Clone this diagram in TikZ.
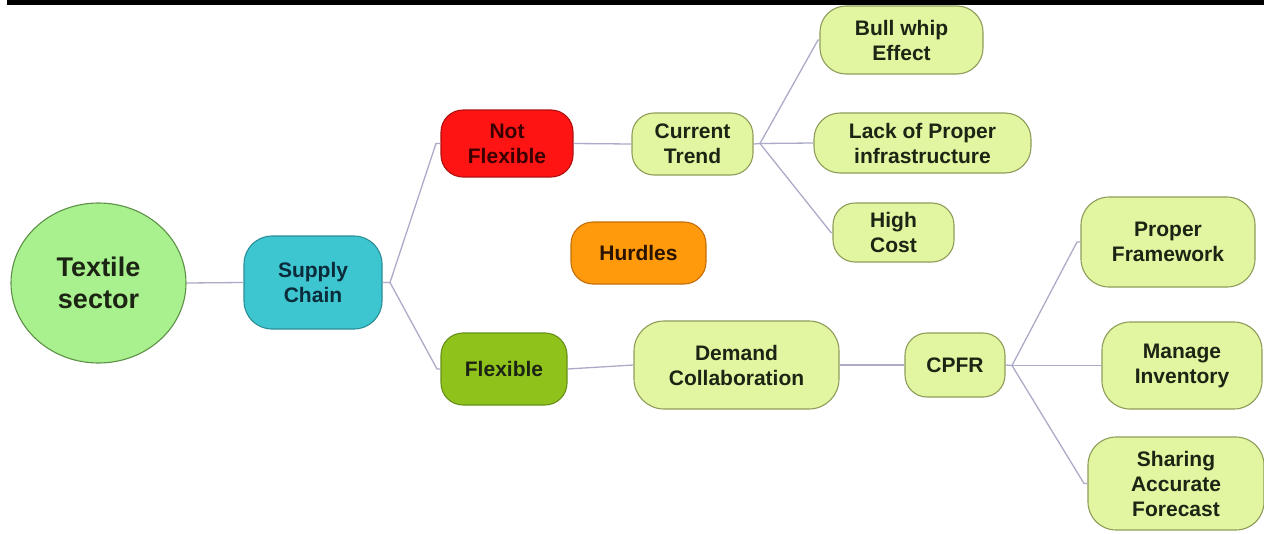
\documentclass[tikz,border=0pt]{standalone}
\usepackage{fontspec}
\setmainfont{Liberation Sans}
\usetikzlibrary{shapes.geometric}
\definecolor{lg}{HTML}{E2F5A0}
\definecolor{lgb}{HTML}{8E9C5A}
\definecolor{conn}{HTML}{ABABC8}
\definecolor{txt}{HTML}{1C2414}
\definecolor{tfill}{HTML}{A9F08F}
\definecolor{tborder}{HTML}{5E9148}
\definecolor{sfill}{HTML}{3EC6D0}
\definecolor{sborder}{HTML}{2A8E96}
\definecolor{stxt}{HTML}{0B2A3A}
\definecolor{rfill}{HTML}{FF1414}
\definecolor{rborder}{HTML}{B01010}
\definecolor{rtxt}{HTML}{3A0000}
\definecolor{ffill}{HTML}{8FC31C}
\definecolor{fborder}{HTML}{66901A}
\definecolor{ofill}{HTML}{FF9A0C}
\definecolor{oborder}{HTML}{C46E08}
\definecolor{otxt}{HTML}{2A1400}
\tikzset{
  box/.style={draw, line width=1.1pt, rounded corners=22pt, align=center, inner sep=2pt,
    font=\fontsize{21}{25}\selectfont\bfseries, text=txt},
  leaf/.style={box, fill=lg, draw=lgb},
  link/.style={draw=conn, line width=1.3pt},
}
\begin{document}
\begin{tikzpicture}[x=1pt,y=-1pt]
\useasboundingbox (0,0) rectangle (1264,533);
\fill[black] (7,0) rectangle (1264,4.6);
% nodes
\node[ellipse, draw=tborder, fill=tfill, line width=1.1pt, minimum width=175pt, minimum height=160pt, inner sep=0pt,
  align=center, font=\fontsize{27}{32}\selectfont\bfseries, text=txt] (textile) at (98.5,283) {Textile\\sector};
\node[box, fill=sfill, draw=sborder, text=stxt, minimum width=138pt, minimum height=93pt, rounded corners=28pt] (supply) at (313,282.5) {Supply\\Chain};
\node[box, fill=rfill, draw=rborder, text=rtxt, minimum width=132pt, minimum height=67pt] (notflex) at (507,143.5) {Not\\Flexible};
\node[box, fill=ffill, draw=fborder, minimum width=126pt, minimum height=72pt] (flex) at (504,369) {Flexible};
\node[box, fill=ofill, draw=oborder, text=otxt, minimum width=135pt, minimum height=62pt] (hurdles) at (638.5,253) {Hurdles};
\node[leaf, minimum width=121pt, minimum height=62pt] (current) at (692.5,144) {Current\\Trend};
\node[leaf, minimum width=205pt, minimum height=88pt, rounded corners=30pt] (demand) at (736.5,365) {Demand\\Collaboration};
\node[leaf, minimum width=100pt, minimum height=64pt] (cpfr) at (955,365) {CPFR};
\node[leaf, minimum width=163pt, minimum height=68pt, rounded corners=26pt] (bull) at (901.5,40) {Bull whip\\Effect};
\node[leaf, minimum width=217pt, minimum height=60pt, rounded corners=26pt] (lack) at (922.5,143) {Lack of Proper\\infrastructure};
\node[leaf, minimum width=121pt, minimum height=59pt] (high) at (893.5,232.5) {High\\Cost};
\node[leaf, minimum width=174pt, minimum height=90pt, rounded corners=28pt] (proper) at (1168,242) {Proper\\Framework};
\node[leaf, minimum width=160pt, minimum height=87pt, rounded corners=28pt] (manage) at (1182,365.5) {Manage\\Inventory};
\node[leaf, minimum width=176pt, minimum height=93pt, rounded corners=28pt] (sharing) at (1176,483.5) {Sharing\\Accurate\\Forecast};
% junction coordinates
\coordinate (sb) at (390,282.5);
\coordinate (nfin) at (436,143.5);
\coordinate (flin) at (437,369);
\coordinate (cb) at (760,143.5);
\coordinate (bwin) at (818,40);
\coordinate (hcin) at (831,232.5);
\coordinate (pb) at (1012,365.5);
\coordinate (pfin) at (1077,242);
\coordinate (sain) at (1084,483.5);
% connectors
\begin{scope}[on background layer/.style={}]
\draw[link] (textile.east) -- (supply.west);
\draw[link] (supply.east) -- (sb) -- (nfin) -- (notflex.west);
\draw[link] (sb) -- (flin) -- (flex.west);
\draw[link] (notflex.east) -- (current.west);
\draw[link] (flex.east) -- (demand.west);
\draw[link] (current.east) -- (cb) -- (bwin) -- (bull.west);
\draw[link] (cb) -- (lack.west);
\draw[link] (cb) -- (hcin) -- (high.west);
\draw[link] (demand.east) -- (cpfr.west);
\draw[link] (cpfr.east) -- (pb) -- (pfin) -- (proper.west);
\draw[link] (pb) -- (manage.west);
\draw[link] (pb) -- (sain) -- (sharing.west);
\end{scope}
\end{tikzpicture}
\end{document}
